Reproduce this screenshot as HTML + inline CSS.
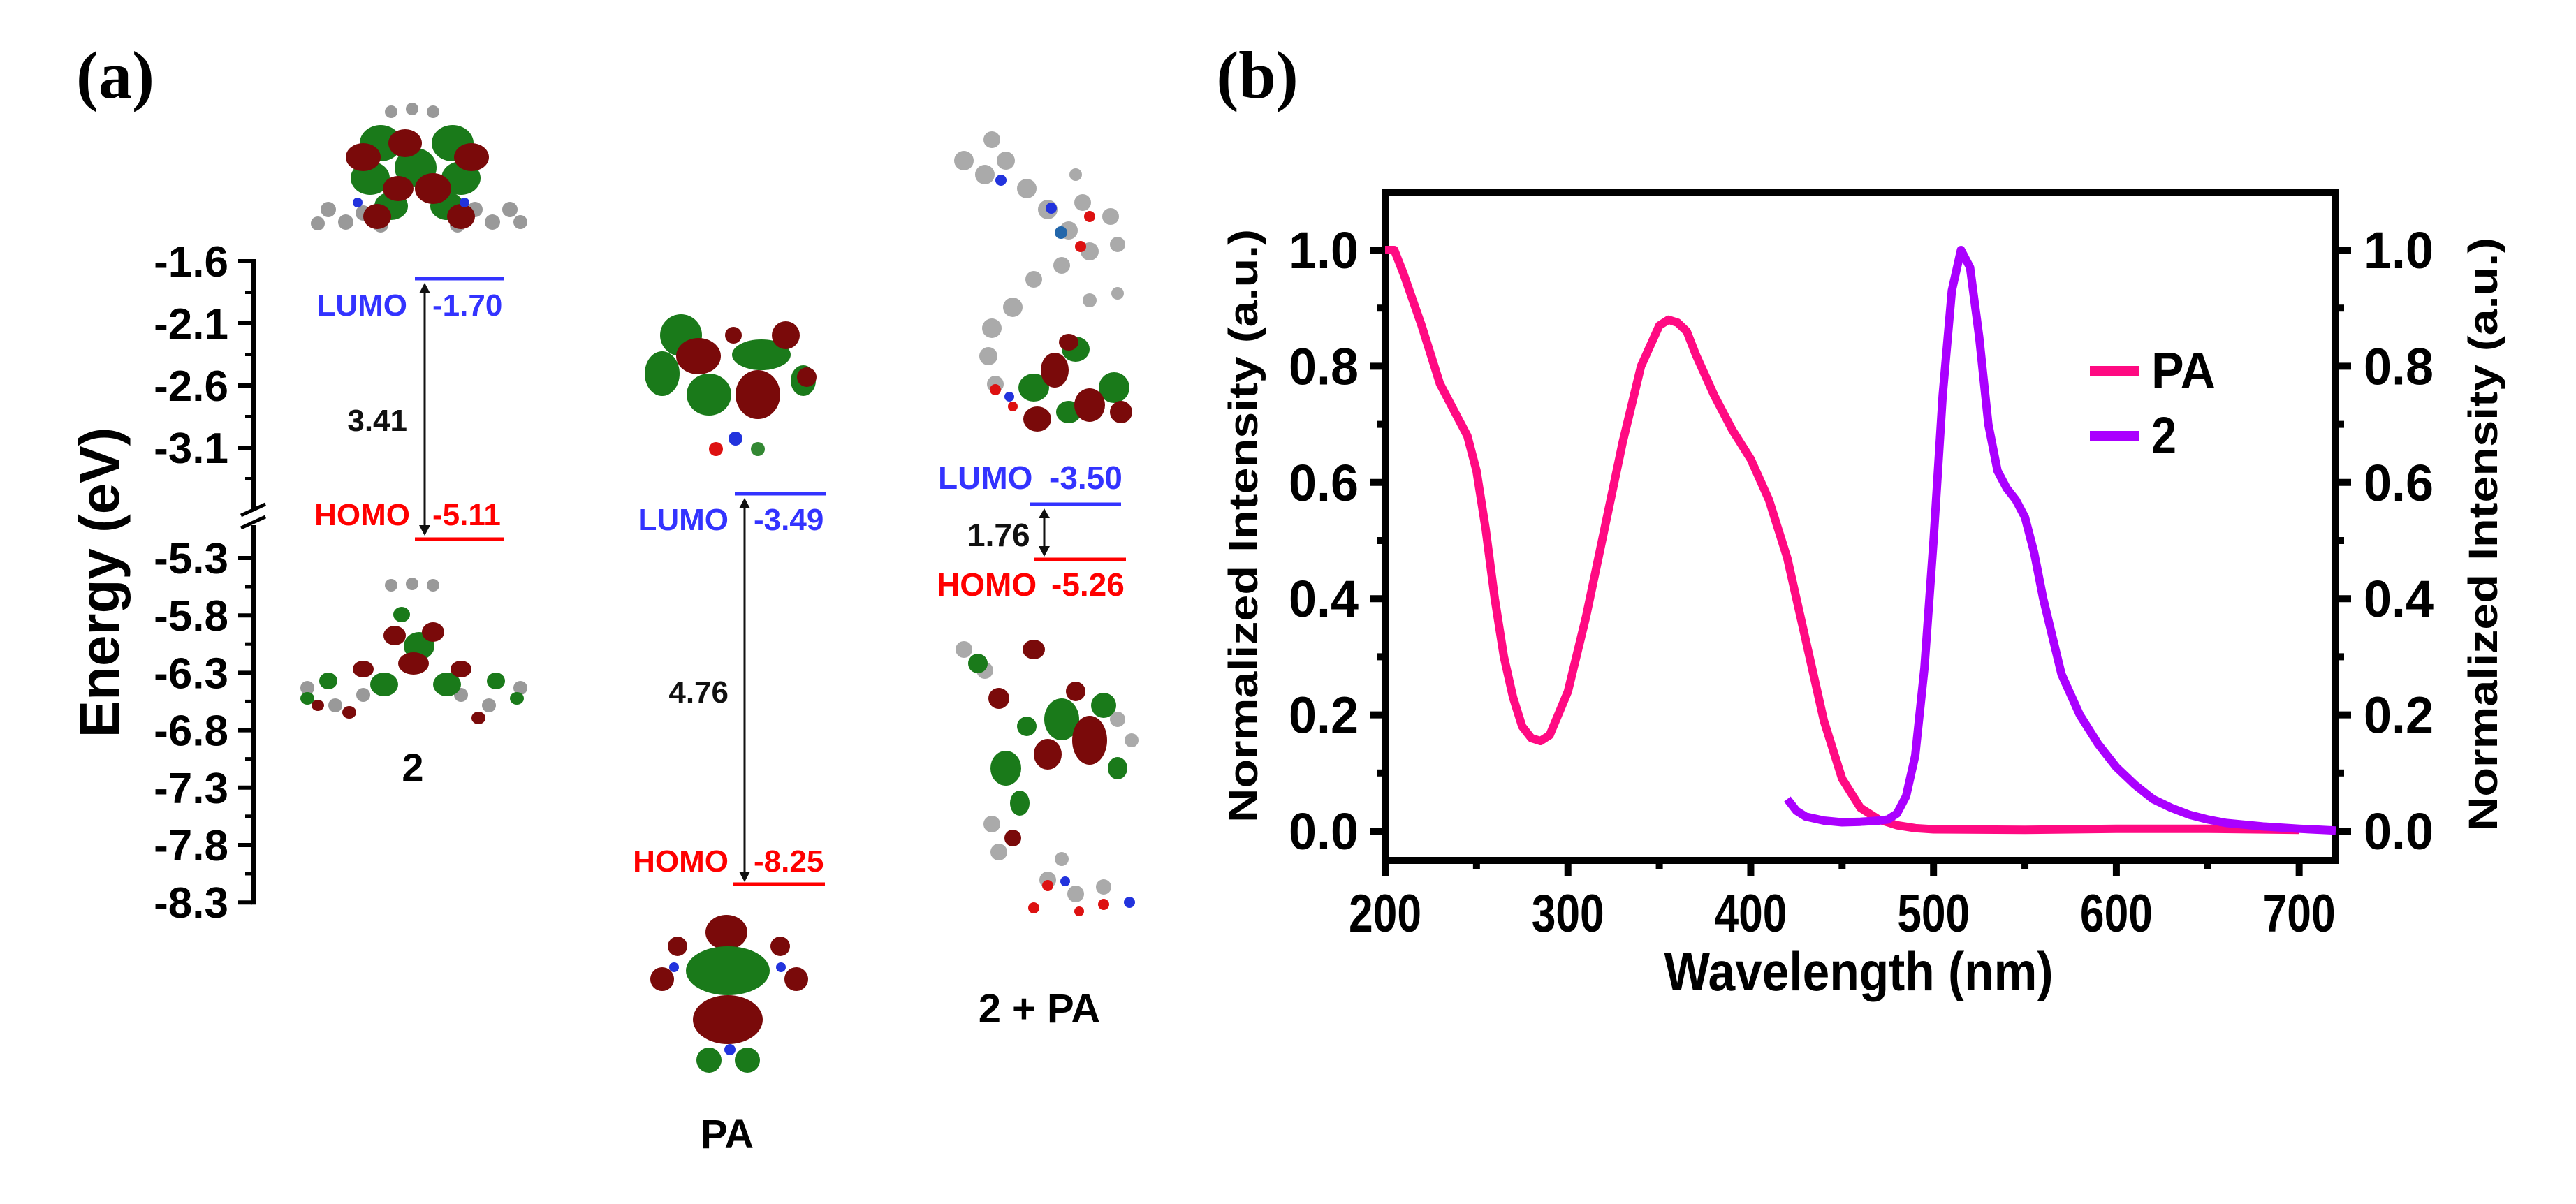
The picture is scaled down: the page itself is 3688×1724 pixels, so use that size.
<!DOCTYPE html>
<html><head><meta charset="utf-8"><style>
html,body{margin:0;padding:0;background:#fff}
svg{display:block}
.t{font-family:"Liberation Sans",Arial,sans-serif;font-weight:bold}
.n{font-family:"Liberation Sans Narrow","Liberation Sans",Arial,sans-serif;font-weight:bold}
</style></head><body>
<svg id="fig" width="3688" height="1724" viewBox="0 0 3688 1724" xmlns="http://www.w3.org/2000/svg">
<rect width="3688" height="1724" fill="#fff"/>
<text x="165" y="140" font-family="Liberation Serif,serif" font-weight="bold" font-size="96" text-anchor="middle">(a)</text>
<text x="1800" y="140" font-family="Liberation Serif,serif" font-weight="bold" font-size="96" text-anchor="middle">(b)</text>

<g id="energy">
 <text class="t" font-size="80" transform="translate(170,834) rotate(-90)" text-anchor="middle">Energy (eV)</text>
 <g id="eaxis"></g>

 <g>
  <g fill="#999"><circle cx="470" cy="300" r="11"/><circle cx="495" cy="318" r="11"/><circle cx="520" cy="305" r="11"/><circle cx="545" cy="322" r="11"/><circle cx="455" cy="320" r="10"/><circle cx="680" cy="300" r="11"/><circle cx="705" cy="318" r="11"/><circle cx="730" cy="300" r="11"/><circle cx="655" cy="322" r="11"/><circle cx="745" cy="318" r="10"/><circle cx="560" cy="160" r="9"/><circle cx="590" cy="156" r="9"/><circle cx="620" cy="160" r="9"/></g>
  <g fill="#1a7a1a"><ellipse cx="545" cy="205" rx="30" ry="26"/><ellipse cx="648" cy="205" rx="30" ry="26"/><ellipse cx="530" cy="255" rx="28" ry="24"/><ellipse cx="660" cy="255" rx="28" ry="24"/><ellipse cx="595" cy="240" rx="30" ry="28"/><ellipse cx="560" cy="295" rx="24" ry="20"/><ellipse cx="640" cy="295" rx="24" ry="20"/></g>
  <g fill="#7a0a0a"><ellipse cx="520" cy="225" rx="25" ry="20"/><ellipse cx="675" cy="225" rx="25" ry="20"/><ellipse cx="580" cy="205" rx="24" ry="20"/><ellipse cx="620" cy="270" rx="26" ry="22"/><ellipse cx="570" cy="270" rx="22" ry="18"/><ellipse cx="540" cy="310" rx="20" ry="18"/><ellipse cx="660" cy="310" rx="20" ry="18"/></g>
  <circle cx="512" cy="290" r="7" fill="#2233dd"/><circle cx="665" cy="290" r="7" fill="#2233dd"/>
 </g>
 <g>
  <g fill="#999"><circle cx="560" cy="838" r="9"/><circle cx="590" cy="836" r="9"/><circle cx="620" cy="838" r="9"/><circle cx="440" cy="985" r="10"/><circle cx="480" cy="1010" r="10"/><circle cx="520" cy="995" r="10"/><circle cx="660" cy="995" r="10"/><circle cx="700" cy="1010" r="10"/><circle cx="745" cy="985" r="10"/></g>
  <g fill="#1a7a1a"><ellipse cx="550" cy="980" rx="20" ry="17"/><ellipse cx="640" cy="980" rx="20" ry="17"/><ellipse cx="600" cy="925" rx="22" ry="20"/><ellipse cx="470" cy="975" rx="13" ry="12"/><ellipse cx="710" cy="975" rx="13" ry="12"/><ellipse cx="440" cy="1000" rx="10" ry="9"/><ellipse cx="740" cy="1000" rx="10" ry="9"/><ellipse cx="575" cy="880" rx="12" ry="11"/></g>
  <g fill="#7a0a0a"><ellipse cx="592" cy="950" rx="22" ry="16"/><ellipse cx="565" cy="910" rx="16" ry="14"/><ellipse cx="620" cy="905" rx="16" ry="14"/><ellipse cx="520" cy="958" rx="15" ry="12"/><ellipse cx="660" cy="958" rx="15" ry="12"/><ellipse cx="500" cy="1020" rx="10" ry="9"/><ellipse cx="685" cy="1028" rx="10" ry="9"/><ellipse cx="455" cy="1010" rx="9" ry="8"/></g>
 </g>
 <g>
  <g fill="#1a7a1a"><ellipse cx="975" cy="480" rx="30" ry="30"/><ellipse cx="948" cy="535" rx="25" ry="32"/><ellipse cx="1015" cy="565" rx="32" ry="30"/><ellipse cx="1090" cy="508" rx="42" ry="22"/><ellipse cx="1150" cy="545" rx="18" ry="22"/></g>
  <g fill="#7a0a0a"><ellipse cx="1000" cy="510" rx="32" ry="26"/><ellipse cx="1125" cy="480" rx="20" ry="20"/><ellipse cx="1085" cy="565" rx="32" ry="35"/><ellipse cx="1050" cy="480" rx="12" ry="12"/><ellipse cx="1155" cy="540" rx="14" ry="14"/></g>
  <circle cx="1053" cy="628" r="10" fill="#2233dd"/><circle cx="1025" cy="643" r="10" fill="#dd1111"/><circle cx="1085" cy="643" r="10" fill="#338833"/>
 </g>
 <g>
  <ellipse cx="1040" cy="1335" rx="30" ry="25" fill="#7a0a0a"/>
  <ellipse cx="1042" cy="1390" rx="60" ry="35" fill="#1a7a1a"/>
  <ellipse cx="1042" cy="1460" rx="50" ry="35" fill="#7a0a0a"/>
  <circle cx="970" cy="1355" r="14" fill="#7a0a0a"/><circle cx="1117" cy="1355" r="14" fill="#7a0a0a"/>
  <circle cx="948" cy="1402" r="17" fill="#7a0a0a"/><circle cx="1140" cy="1402" r="17" fill="#7a0a0a"/>
  <circle cx="1015" cy="1518" r="18" fill="#1a7a1a"/><circle cx="1070" cy="1518" r="18" fill="#1a7a1a"/>
  <circle cx="1045" cy="1503" r="8" fill="#2233dd"/><circle cx="965" cy="1385" r="7" fill="#2233dd"/><circle cx="1118" cy="1385" r="7" fill="#2233dd"/>
 </g>
 <g>
  <g fill="#aaa"><circle cx="1380" cy="230" r="14"/><circle cx="1410" cy="250" r="14"/><circle cx="1440" cy="230" r="13"/><circle cx="1420" cy="200" r="12"/><circle cx="1470" cy="270" r="14"/><circle cx="1500" cy="300" r="14"/><circle cx="1530" cy="330" r="13"/><circle cx="1550" cy="290" r="12"/><circle cx="1590" cy="310" r="12"/><circle cx="1600" cy="350" r="11"/><circle cx="1560" cy="360" r="13"/><circle cx="1520" cy="380" r="12"/><circle cx="1480" cy="400" r="12"/><circle cx="1450" cy="440" r="14"/><circle cx="1420" cy="470" r="14"/><circle cx="1415" cy="510" r="13"/><circle cx="1425" cy="550" r="12"/><circle cx="1560" cy="430" r="10"/><circle cx="1600" cy="420" r="9"/><circle cx="1540" cy="250" r="9"/></g>
  <circle cx="1433" cy="258" r="8" fill="#2233dd"/><circle cx="1505" cy="298" r="8" fill="#2233dd"/><circle cx="1519" cy="333" r="9" fill="#2266aa"/><circle cx="1560" cy="310" r="8" fill="#dd1111"/><circle cx="1547" cy="353" r="8" fill="#dd1111"/>
  <g fill="#1a7a1a"><ellipse cx="1480" cy="555" rx="22" ry="20"/><ellipse cx="1540" cy="500" rx="20" ry="18"/><ellipse cx="1595" cy="555" rx="22" ry="22"/><ellipse cx="1530" cy="590" rx="18" ry="16"/></g>
  <g fill="#7a0a0a"><ellipse cx="1510" cy="530" rx="20" ry="25"/><ellipse cx="1560" cy="580" rx="22" ry="24"/><ellipse cx="1485" cy="600" rx="20" ry="18"/><ellipse cx="1605" cy="590" rx="16" ry="16"/><ellipse cx="1530" cy="490" rx="14" ry="12"/></g>
  <circle cx="1425" cy="558" r="8" fill="#dd1111"/><circle cx="1445" cy="568" r="7" fill="#2233dd"/><circle cx="1450" cy="582" r="7" fill="#dd1111"/>
 </g>
 <g>
  <g fill="#aaa"><circle cx="1380" cy="930" r="12"/><circle cx="1410" cy="960" r="12"/><circle cx="1600" cy="1030" r="11"/><circle cx="1620" cy="1060" r="10"/><circle cx="1420" cy="1180" r="12"/><circle cx="1430" cy="1220" r="12"/><circle cx="1500" cy="1260" r="12"/><circle cx="1540" cy="1280" r="12"/><circle cx="1580" cy="1270" r="11"/><circle cx="1520" cy="1230" r="10"/></g>
  <g fill="#1a7a1a"><ellipse cx="1520" cy="1030" rx="25" ry="30"/><ellipse cx="1440" cy="1100" rx="22" ry="25"/><ellipse cx="1580" cy="1010" rx="18" ry="18"/><ellipse cx="1400" cy="950" rx="14" ry="14"/><ellipse cx="1460" cy="1150" rx="14" ry="18"/><ellipse cx="1600" cy="1100" rx="14" ry="16"/><ellipse cx="1470" cy="1040" rx="14" ry="14"/></g>
  <g fill="#7a0a0a"><ellipse cx="1560" cy="1060" rx="25" ry="35"/><ellipse cx="1500" cy="1080" rx="20" ry="22"/><ellipse cx="1430" cy="1000" rx="15" ry="15"/><ellipse cx="1480" cy="930" rx="16" ry="14"/><ellipse cx="1540" cy="990" rx="14" ry="14"/><ellipse cx="1450" cy="1200" rx="12" ry="12"/></g>
  <circle cx="1500" cy="1268" r="8" fill="#dd1111"/><circle cx="1525" cy="1262" r="7" fill="#2233dd"/><circle cx="1580" cy="1295" r="8" fill="#dd1111"/><circle cx="1617" cy="1292" r="8" fill="#2233dd"/><circle cx="1545" cy="1305" r="7" fill="#dd1111"/><circle cx="1480" cy="1300" r="8" fill="#dd1111"/>
 </g>

 <g>
  <line x1="594" y1="399" x2="722" y2="399" stroke="#3333ff" stroke-width="5"/>
  <line x1="594" y1="772" x2="722" y2="772" stroke="#ff0000" stroke-width="5"/>
  <text class="t" x="583" y="452" font-size="44" fill="#3333ff" text-anchor="end">LUMO</text>
  <text class="t" x="619" y="452" font-size="44" fill="#3333ff">-1.70</text>
  <text class="t" x="587" y="752" font-size="44" fill="#ff0000" text-anchor="end">HOMO</text>
  <text class="t" x="619" y="752" font-size="44" fill="#ff0000">-5.11</text>
  <text class="t" x="583" y="617" font-size="44" fill="#111" text-anchor="end">3.41</text>
  <line x1="608" y1="410" x2="608" y2="760" stroke="#111" stroke-width="3"/>
  <path d="M600 420 L608 405 L616 420 Z M600 752 L608 767 L616 752 Z" fill="#111"/>
  <text class="t" x="591" y="1118" font-size="56" text-anchor="middle">2</text>
 </g>
 <g>
  <line x1="1052" y1="707" x2="1183" y2="707" stroke="#3333ff" stroke-width="5"/>
  <line x1="1050" y1="1266" x2="1181" y2="1266" stroke="#ff0000" stroke-width="5"/>
  <text class="t" x="1043" y="759" font-size="44" fill="#3333ff" text-anchor="end">LUMO</text>
  <text class="t" x="1079" y="759" font-size="44" fill="#3333ff">-3.49</text>
  <text class="t" x="1043" y="1248" font-size="44" fill="#ff0000" text-anchor="end">HOMO</text>
  <text class="t" x="1079" y="1248" font-size="44" fill="#ff0000">-8.25</text>
  <text class="t" x="1043" y="1006" font-size="44" fill="#111" text-anchor="end">4.76</text>
  <line x1="1066" y1="718" x2="1066" y2="1255" stroke="#111" stroke-width="3"/>
  <path d="M1058 728 L1066 713 L1074 728 Z M1058 1248 L1066 1263 L1074 1248 Z" fill="#111"/>
  <text class="t" x="1041" y="1644" font-size="58" text-anchor="middle">PA</text>
 </g>
 <g>
  <line x1="1475" y1="722" x2="1605" y2="722" stroke="#3333ff" stroke-width="5"/>
  <line x1="1480" y1="801" x2="1612" y2="801" stroke="#ff0000" stroke-width="5"/>
  <text class="t" x="1343" y="700" font-size="46" fill="#3333ff">LUMO</text>
  <text class="t" x="1502" y="700" font-size="46" fill="#3333ff">-3.50</text>
  <text class="t" x="1341" y="853" font-size="46" fill="#ff0000">HOMO</text>
  <text class="t" x="1505" y="853" font-size="46" fill="#ff0000">-5.26</text>
  <text class="t" x="1385" y="782" font-size="46" fill="#111">1.76</text>
  <line x1="1495" y1="732" x2="1495" y2="792" stroke="#111" stroke-width="3"/>
  <path d="M1487 742 L1495 728 L1503 742 Z M1487 782 L1495 797 L1503 782 Z" fill="#111"/>
  <text class="t" x="1488" y="1464" font-size="58" text-anchor="middle">2 + PA</text>
 </g>
</g>

<g id="chart">
 <g id="plot"></g>
 <g>
  <line x1="2992" y1="531" x2="3062" y2="531" stroke="#ff0a82" stroke-width="14"/>
  <text class="n" x="3080" y="556" font-size="74" textLength="92" lengthAdjust="spacingAndGlyphs">PA</text>
  <line x1="2992" y1="624" x2="3062" y2="624" stroke="#aa00ff" stroke-width="14"/>
  <text class="n" x="3080" y="649" font-size="74" textLength="36" lengthAdjust="spacingAndGlyphs">2</text>
 </g>
 <text class="t" font-size="58" text-anchor="middle" textLength="850" lengthAdjust="spacingAndGlyphs" transform="translate(1800,753) rotate(-90)">Normalized Intensity (a.u.)</text>
 <text class="t" font-size="58" text-anchor="middle" textLength="850" lengthAdjust="spacingAndGlyphs" transform="translate(3575,765) rotate(-90)">Normalized Intensity (a.u.)</text>
 <text class="n" x="2661" y="1418" font-size="78" text-anchor="middle" textLength="557" lengthAdjust="spacingAndGlyphs">Wavelength (nm)</text>
</g>
</svg>
<script>
const NS='http://www.w3.org/2000/svg';
// energy axis data
const energyTicksTop=['-1.6','-2.1','-2.6','-3.1'];
const energyTicksBottom=['-5.3','-5.8','-6.3','-6.8','-7.3','-7.8','-8.3'];
// spectrum data
const paWave=[200,205,210,220,230,240,245,250,255,260,265,270,275,280,285,290,300,310,320,330,340,350,355,360,365,370,380,390,400,410,420,430,440,450,460,470,480,490,500,550,600,650,700];
const paInt=[1.0,1.0,0.96,0.87,0.77,0.71,0.68,0.62,0.52,0.40,0.30,0.23,0.18,0.16,0.155,0.165,0.24,0.37,0.52,0.67,0.80,0.87,0.88,0.875,0.86,0.82,0.75,0.69,0.64,0.57,0.47,0.33,0.19,0.09,0.04,0.02,0.01,0.005,0.003,0.002,0.004,0.004,0.002];
const emWave=[420,425,430,440,450,460,470,475,480,485,490,495,500,505,510,515,520,525,530,535,540,545,550,555,560,570,580,590,600,610,620,630,640,650,660,680,700,720];
const emInt=[0.055,0.035,0.025,0.018,0.015,0.016,0.018,0.02,0.03,0.06,0.13,0.28,0.50,0.75,0.93,1.0,0.97,0.85,0.70,0.62,0.59,0.57,0.54,0.48,0.40,0.27,0.20,0.15,0.11,0.08,0.055,0.04,0.028,0.02,0.014,0.008,0.004,0.001];
const xTicks=[200,300,400,500,600,700];
const yTicks=[0,0.2,0.4,0.6,0.8,1.0];
const yTickLabels=['0.0','0.2','0.4','0.6','0.8','1.0'];

function mk(tag,attrs,parent,text){const e=document.createElementNS(NS,tag);for(const k in attrs)e.setAttribute(k,attrs[k]);if(text!==undefined)e.textContent=text;parent.appendChild(e);return e;}

// energy axis
const ea=document.getElementById('eaxis');
const AX=363;
const eTop=v=>374+(-1.6-v)/0.5*89;
const eBot=v=>799+(-5.3-v)/0.5*82.2;
let l=mk('line',{x1:AX,y1:eTop(-1.6)-3,x2:AX,y2:730,stroke:'#000','stroke-width':6},ea);


l=mk('line',{x1:AX,y1:752,x2:AX,y2:eBot(-8.3)+3,stroke:'#000','stroke-width':6},ea);


mk('path',{d:'M345 738 L380 722 M345 756 L380 740',stroke:'#000','stroke-width':5,fill:'none'},ea);
energyTicksTop.forEach((s,i)=>{const y=eTop(parseFloat(s));
 mk('line',{x1:AX-2,y1:y,x2:AX-22,y2:y,stroke:'#000','stroke-width':6},ea);
 if(i<energyTicksTop.length-1)mk('line',{x1:AX,y1:y+44.5,x2:AX-12,y2:y+44.5,stroke:'#000','stroke-width':5},ea);
 const t=mk('text',{x:327,y:y+22,'font-size':62,'text-anchor':'end',class:'t'},ea,s);
 
 });
mk('line',{x1:AX,y1:eTop(-3.35),x2:AX-12,y2:eTop(-3.35),stroke:'#000','stroke-width':5},ea);
energyTicksBottom.forEach((s,i)=>{const y=eBot(parseFloat(s));
 mk('line',{x1:AX-2,y1:y,x2:AX-22,y2:y,stroke:'#000','stroke-width':6},ea);
 if(i<energyTicksBottom.length-1)mk('line',{x1:AX,y1:y+41,x2:AX-12,y2:y+41,stroke:'#000','stroke-width':5},ea);
 const t=mk('text',{x:327,y:y+22,'font-size':62,'text-anchor':'end',class:'t'},ea,s);
 
 });

// spectrum chart
const pl=document.getElementById('plot');
const X0=1983,X1=3344,Y0=275,Y1=1232;
const xs=v=>X0+(v-200)/(720-200)*(X1-X0);
const ys=v=>1190-v*832;
const fr=mk('rect',{x:X0,y:Y0,width:X1-X0,height:Y1-Y0,fill:'none',stroke:'#000','stroke-width':10},pl);


xTicks.forEach((v,i)=>{const x=xs(v);
 mk('line',{x1:x,y1:Y1,x2:x,y2:Y1+22,stroke:'#000','stroke-width':10},pl);
 if(v+50<720)mk('line',{x1:xs(v+50),y1:Y1,x2:xs(v+50),y2:Y1+12,stroke:'#000','stroke-width':10},pl);
 const t=mk('text',{x:x,y:1334,'font-size':76,'text-anchor':'middle',class:'n',textLength:104,lengthAdjust:'spacingAndGlyphs'},pl,String(v));
 
 });
yTicks.forEach((v,i)=>{const y=ys(v);
 mk('line',{x1:X0,y1:y,x2:X0-22,y2:y,stroke:'#000','stroke-width':10},pl);
 mk('line',{x1:X1,y1:y,x2:X1+22,y2:y,stroke:'#000','stroke-width':10},pl);
 const my=ys(v+0.1);
 if(my>Y0){mk('line',{x1:X0,y1:my,x2:X0-12,y2:my,stroke:'#000','stroke-width':10},pl);mk('line',{x1:X1,y1:my,x2:X1+12,y2:my,stroke:'#000','stroke-width':10},pl);}
 let t=mk('text',{x:1945,y:y+26,'font-size':74,'text-anchor':'end',class:'n',textLength:100,lengthAdjust:'spacingAndGlyphs'},pl,yTickLabels[i]);
 
 
 t=mk('text',{x:3384,y:y+26,'font-size':74,class:'n',textLength:100,lengthAdjust:'spacingAndGlyphs'},pl,yTickLabels[i]);
 
 });
function path(w,v){return w.map((x,i)=>(i?'L':'M')+xs(x).toFixed(1)+' '+ys(v[i]).toFixed(1)).join(' ');}
let p=mk('path',{d:path(paWave,paInt),fill:'none',stroke:'#ff0a82','stroke-width':12,'stroke-linejoin':'round'},pl);


p=mk('path',{d:path(emWave,emInt),fill:'none',stroke:'#aa00ff','stroke-width':12,'stroke-linejoin':'round'},pl);


</script>
</body></html>
